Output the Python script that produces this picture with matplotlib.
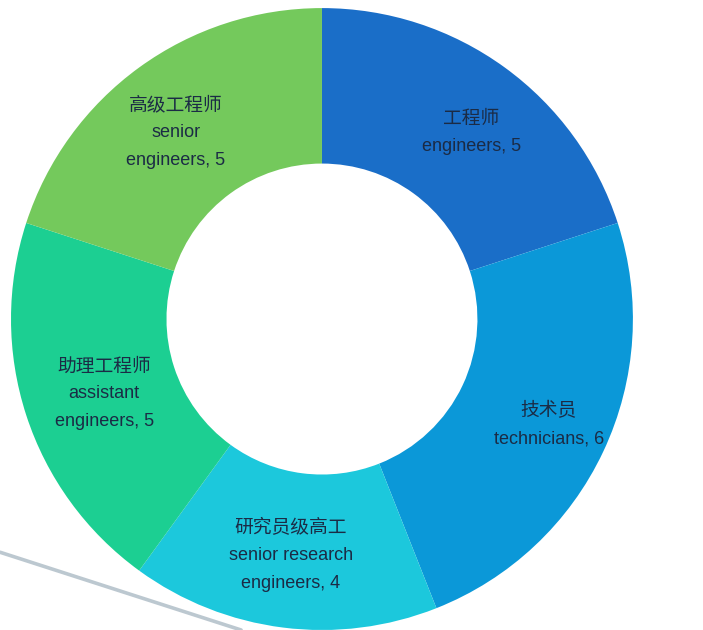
import matplotlib
matplotlib.use("Agg")
import matplotlib.pyplot as plt

plt.rcParams['font.family'] = ['Liberation Sans', 'Noto Sans CJK SC', 'DejaVu Sans']

# 数据
labels_cn = ['工程师', '技术员', '研究员级高工', '助理工程师', '高级工程师']
labels_en = ['engineers', 'technicians', 'senior research\nengineers',
             'assistant\nengineers', 'senior\nengineers']
counts = [5, 6, 4, 5, 5]
colors = ['#1a6ec8', '#0b98d8', '#1cc8dc', '#1ccf92', '#74c95c']

fig = plt.figure(figsize=(7.03, 6.3), dpi=100)
ax = fig.add_axes([0, 0, 1, 1])

# 左下角装饰线
ax.plot([-1.035, -0.26], [-0.75, -1.0], color='#bcc8d0', lw=2.6,
        solid_capstyle='round', zorder=0)

wedges, _ = ax.pie(counts, colors=colors, startangle=90, counterclock=False,
                   radius=1.0, wedgeprops=dict(width=0.5, edgecolor='none'))
for w in wedges:
    w.set_zorder(1)

# 标签中心位置 (数据坐标, 半径=1)
label_xy = [(0.48, 0.60), (0.73, -0.34), (-0.10, -0.76),
            (-0.70, -0.24), (-0.47, 0.60)]
pitch = 20  # 行距 (points)
txt_color = '#1b2b45'
for cn, en, n, (x, y) in zip(labels_cn, labels_en, counts, label_xy):
    lines = [cn] + f'{en}, {n}'.split('\n')
    k = len(lines)
    for i, line in enumerate(lines):
        dy = ((k - 1) / 2 - i) * pitch
        if i == 0:
            fam = ['Noto Sans CJK SC', 'DejaVu Sans']
            fs = 13.5
        else:
            fam = ['Liberation Sans', 'DejaVu Sans']
            fs = 13
        ax.annotate(line, (x, y), xytext=(0, dy), textcoords='offset points',
                    ha='center', va='center', fontsize=fs, family=fam,
                    color=txt_color, zorder=3)

ax.set_xlim(-1.035, 1.225)
ax.set_ylim(-1.0, 1.026)
ax.set_aspect('equal')
ax.axis('off')

fig.savefig('out.png', dpi=100, facecolor='white')
